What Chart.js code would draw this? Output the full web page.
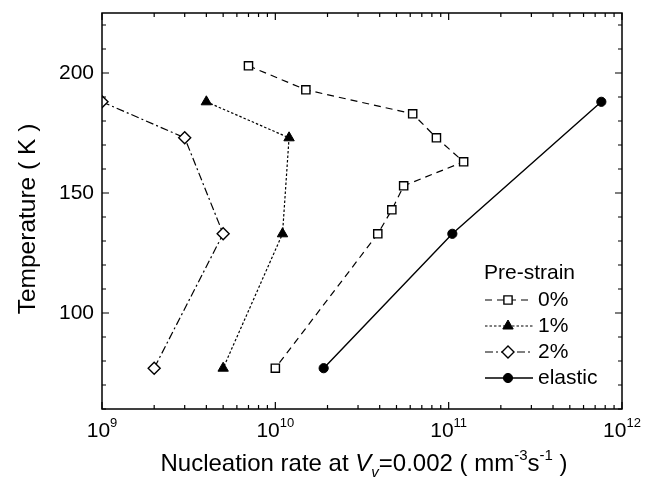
<!DOCTYPE html>
<html lang="en">
<head>
<meta charset="UTF-8">
<title>Nucleation rate vs temperature</title>
<script src="https://cdn.jsdelivr.net/npm/chart.js"></script>
<style>
  html, body { margin: 0; padding: 0; background: #fff; }
</style>
</head>
<body>
<canvas id="nucleation-chart" width="649" height="477"></canvas>
<script>
// values: temperature (K) vs nucleation rate (mm^-3 s^-1)
const temp0 = [203, 193, 183, 173, 163, 153, 143, 133, 77];
const rate0 = [7.0e9, 1.5e10, 6.2e10, 8.5e10, 1.22e11, 5.5e10, 4.7e10, 3.9e10, 1.0e10];
const temp1 = [188, 173, 133, 77];
const rate1 = [4.0e9, 1.2e10, 1.1e10, 5.0e9];
const temp2 = [188, 173, 133, 77];
const rate2 = [1.0e9, 3.0e9, 5.0e9, 2.0e9];
const tempElastic = [77, 133, 188];
const rateElastic = [1.9e10, 1.05e11, 7.6e11];

const seriesNames = ['0%', '1%', '2%', 'elastic'];
const legendTitle = 'Pre-strain';
const xTicks = [1e9, 1e10, 1e11, 1e12];
const xTickExp = ['9', '10', '11', '12'];
const yTicks = [100, 150, 200];

const FONT = '"Liberation Sans", Arial, Helvetica, sans-serif';

function toPoints(xs, ys) {
    return xs.map((x, i) => ({ x: x, y: ys[i] }));
}

// marker drawn the same way as chart.js does it, used for the legend
function drawMarker(ctx, style, x, y, r) {
    ctx.beginPath();
    if (style === 'rect') {
        const s = r * Math.SQRT1_2;
        ctx.rect(x - s, y - s, 2 * s, 2 * s);
    } else if (style === 'triangle') {
        ctx.moveTo(x, y - r);
        ctx.lineTo(x + Math.sin(2 * Math.PI / 3) * r, y - Math.cos(2 * Math.PI / 3) * r);
        ctx.lineTo(x + Math.sin(4 * Math.PI / 3) * r, y - Math.cos(4 * Math.PI / 3) * r);
        ctx.closePath();
    } else if (style === 'rectRot') {
        ctx.moveTo(x - r, y);
        ctx.lineTo(x, y - r);
        ctx.lineTo(x + r, y);
        ctx.lineTo(x, y + r);
        ctx.closePath();
    } else {
        ctx.arc(x, y, r, 0, Math.PI * 2);
    }
    ctx.fill();
    ctx.stroke();
}

// draws a run of text pieces (for super/subscripts) starting at x
function drawRuns(ctx, runs, x, y) {
    runs.forEach(r => {
        ctx.font = r.font;
        ctx.fillText(r.text, x, y + (r.dy || 0));
        x += ctx.measureText(r.text).width;
    });
}
function runsWidth(ctx, runs) {
    let w = 0;
    runs.forEach(r => { ctx.font = r.font; w += ctx.measureText(r.text).width; });
    return w;
}

const framePlugin = {
    id: 'frame',
    afterDatasetsDraw(chart) {
        const ctx = chart.ctx;
        const a = chart.chartArea;
        const xs = chart.scales.x;
        const ys = chart.scales.y;
        ctx.save();
        ctx.strokeStyle = '#000';
        ctx.fillStyle = '#000';
        ctx.lineWidth = 1.5;
        ctx.setLineDash([]);
        ctx.strokeRect(a.left, a.top, a.right - a.left, a.bottom - a.top);

        ctx.lineWidth = 1.2;
        ctx.beginPath();
        // x ticks, major on decades, minor 2..9
        for (let d = 0; d < xTicks.length; d++) {
            for (let k = 1; k <= 9; k++) {
                const v = xTicks[d] * k;
                if (v > xs.max * 1.0001) break;
                const px = xs.getPixelForValue(v);
                const len = k === 1 ? 7 : 4;
                ctx.moveTo(px, a.bottom); ctx.lineTo(px, a.bottom - len);
                ctx.moveTo(px, a.top); ctx.lineTo(px, a.top + len);
            }
        }
        // y ticks every 10, major every 50
        for (let v = 60; v <= ys.max; v += 10) {
            const py = ys.getPixelForValue(v);
            const len = yTicks.includes(v) ? 7 : 4;
            ctx.moveTo(a.left, py); ctx.lineTo(a.left + len, py);
            ctx.moveTo(a.right, py); ctx.lineTo(a.right - len, py);
        }
        ctx.stroke();

        // y tick labels
        ctx.font = '21px ' + FONT;
        ctx.textAlign = 'right';
        ctx.textBaseline = 'middle';
        yTicks.forEach(v => ctx.fillText(String(v), a.left - 8, ys.getPixelForValue(v)));

        // x tick labels 10^n
        ctx.textAlign = 'left';
        ctx.textBaseline = 'alphabetic';
        xTicks.forEach((v, i) => {
            const runs = [
                { text: '10', font: '21px ' + FONT },
                { text: xTickExp[i], font: '13px ' + FONT, dy: -10 }
            ];
            const w = runsWidth(ctx, runs);
            drawRuns(ctx, runs, xs.getPixelForValue(v) - w / 2, 437);
        });

        // x axis title
        const titleRuns = [
            { text: 'Nucleation rate at ', font: '24px ' + FONT },
            { text: 'V', font: 'italic 24px ' + FONT },
            { text: 'v', font: 'italic 15px ' + FONT, dy: 6 },
            { text: '=0.002 ( mm', font: '24px ' + FONT },
            { text: '-3', font: '15px ' + FONT, dy: -11 },
            { text: 's', font: '24px ' + FONT },
            { text: '-1', font: '15px ' + FONT, dy: -11 },
            { text: ' )', font: '24px ' + FONT }
        ];
        const tw = runsWidth(ctx, titleRuns);
        drawRuns(ctx, titleRuns, 364 - tw / 2, 471);

        // y axis title
        ctx.save();
        ctx.translate(28, 219);
        ctx.rotate(-Math.PI / 2);
        ctx.font = '24.5px ' + FONT;
        ctx.textAlign = 'center';
        ctx.textBaseline = 'middle';
        ctx.fillText('Temperature ( K )', 0, 0);
        ctx.restore();

        // legend
        ctx.font = '21px ' + FONT;
        ctx.textAlign = 'left';
        ctx.textBaseline = 'middle';
        ctx.fillText(legendTitle, 484, 273);
        chart.data.datasets.forEach((ds, i) => {
            const y = 300 + i * 26;
            ctx.lineWidth = ds.borderWidth;
            ctx.setLineDash(ds.borderDash || []);
            ctx.beginPath();
            ctx.moveTo(485, y); ctx.lineTo(533, y);
            ctx.stroke();
            ctx.setLineDash([]);
            ctx.lineWidth = ds.pointBorderWidth;
            ctx.fillStyle = ds.pointBackgroundColor;
            drawMarker(ctx, ds.pointStyle, 508, y, ds.pointRadius);
            ctx.fillStyle = '#000';
            ctx.fillText(seriesNames[i], 538, y);
        });
        ctx.restore();
    }
};

const ctx = document.getElementById('nucleation-chart').getContext('2d');
const nucleationChart = new Chart(ctx, {
    type: 'scatter',
    data: {
        datasets: [
            {
                label: seriesNames[0],
                data: toPoints(rate0, temp0),
                showLine: true,
                borderColor: '#000',
                borderWidth: 1.2,
                borderDash: [7, 5],
                pointStyle: 'rect',
                pointRadius: 5.8,
                pointBackgroundColor: '#fff',
                pointBorderColor: '#000',
                pointBorderWidth: 1.4
            },
            {
                label: seriesNames[1],
                data: toPoints(rate1, temp1),
                showLine: true,
                borderColor: '#000',
                borderWidth: 1.2,
                borderDash: [2.5, 2],
                pointStyle: 'triangle',
                pointRadius: 6,
                pointBackgroundColor: '#000',
                pointBorderColor: '#000',
                pointBorderWidth: 1
            },
            {
                label: seriesNames[2],
                data: toPoints(rate2, temp2),
                showLine: true,
                borderColor: '#000',
                borderWidth: 1.2,
                borderDash: [8, 3, 2, 3],
                pointStyle: 'rectRot',
                pointRadius: 6,
                pointBackgroundColor: '#fff',
                pointBorderColor: '#000',
                pointBorderWidth: 1.4
            },
            {
                label: seriesNames[3],
                data: toPoints(rateElastic, tempElastic),
                showLine: true,
                borderColor: '#000',
                borderWidth: 1.4,
                borderDash: [],
                pointStyle: 'circle',
                pointRadius: 4.6,
                pointBackgroundColor: '#000',
                pointBorderColor: '#000',
                pointBorderWidth: 1
            }
        ]
    },
    options: {
        responsive: false,
        animation: false,
        layout: { padding: { left: 102, right: 27, top: 13, bottom: 68 } },
        plugins: {
            legend: { display: false },
            tooltip: { enabled: false }
        },
        scales: {
            x: { type: 'logarithmic', min: 1e9, max: 1e12, display: false },
            y: { type: 'linear', min: 60, max: 225, display: false }
        }
    },
    plugins: [framePlugin]
});
</script>
</body>
</html>
